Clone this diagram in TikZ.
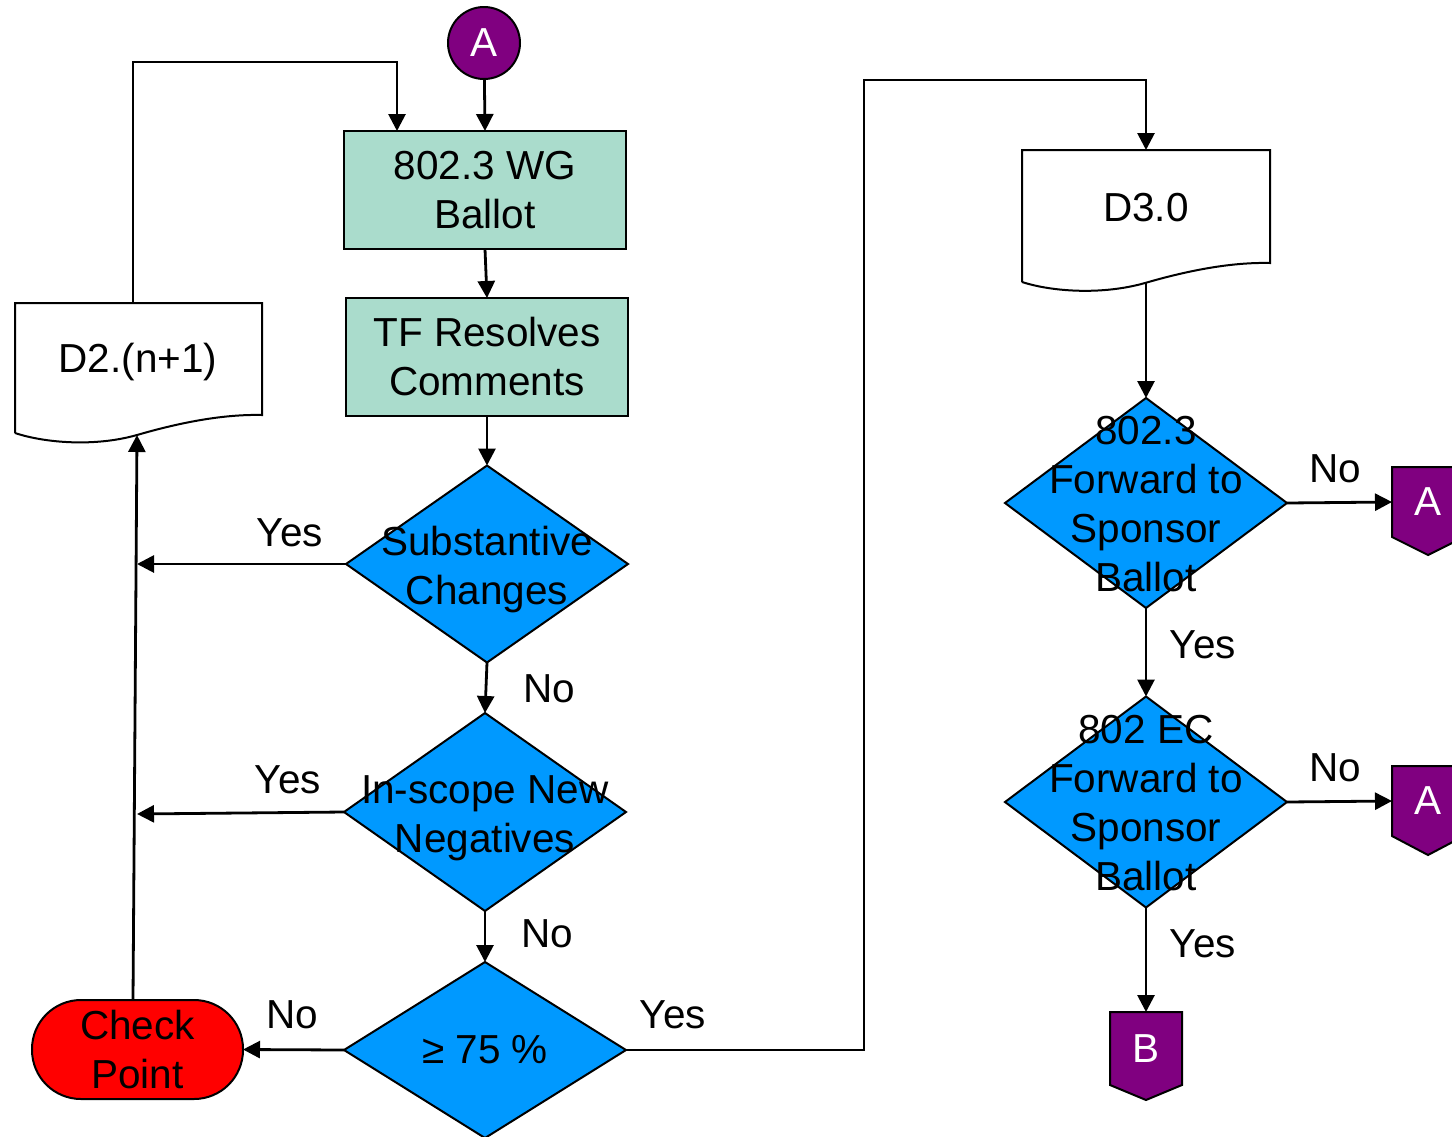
\documentclass[tikz,border=0pt]{standalone}
\usepackage{fontspec}
\setmainfont{Liberation Sans}
\usetikzlibrary{arrows.meta,shapes.geometric}
\definecolor{tealbox}{RGB}{170,220,204}
\definecolor{bluedec}{RGB}{0,153,255}
\definecolor{purp}{RGB}{128,0,128}
\begin{document}
\begin{tikzpicture}[x=1pt,y=-1pt,
  every node/.style={font=\fontsize{40.5}{49}\selectfont, inner sep=0pt, outer sep=0pt},
  arr/.style={line width=2.8pt,-{Triangle[length=17pt,width=17pt]}},
  procbox/.style={draw, line width=2pt, fill=tealbox, minimum width=282pt, minimum height=118pt, align=center},
  decision/.style={draw, line width=2pt, fill=bluedec, diamond, minimum width=282pt},
  docline/.style={draw, line width=2pt, fill=white},
  offshape/.style={draw, line width=2pt, fill=purp},
  offtext/.style={text=white, minimum width=72pt},
  lbl/.style={}
]
\useasboundingbox (0,0) rectangle (1452,1136);

% start connector
\node[circle, draw, line width=2pt, fill=purp, text=white, minimum size=72pt] (ca) at (484,43) {A};

% process boxes
\node[procbox] (wg) at (485,190) {\raisebox{-2pt}{802.3 WG}\\\raisebox{-2pt}{Ballot}};
\node[procbox] (tf) at (487,357) {TF Resolves\\Comments};

% decisions
\node[decision, minimum height=197pt, label={[align=center,yshift=-6pt]center:Substantive\\Changes}] (d1) at (487,564) {};
\node[decision, minimum height=198pt, label={[align=center,yshift=-6pt]center:In-scope New\\Negatives}] (d2) at (485,812) {};
\node[decision, minimum height=176pt, label={center:≥ 75 \%}] (d3) at (485,1050) {};
\node[decision, minimum height=210pt, label={[align=center,yshift=-1pt]center:802.3\\Forward to\\Sponsor\\Ballot}] (d4) at (1146,503) {};
\node[decision, minimum height=211pt, label={[align=center,yshift=-1pt]center:802 EC\\Forward to\\Sponsor\\Ballot}] (d5) at (1146,802) {};

% terminal
\node[draw, line width=2pt, fill=red, rounded corners=49pt, minimum width=211pt, minimum height=99pt, align=center] (cp) at (137.5,1049.5) {Check\\Point};

% documents
\draw[docline] (15,433) -- (15,303) -- (262,303) -- (262,415)
  .. controls (220,414) and (175,424) .. (137,435)
  .. controls (95,447) and (45,443) .. (15,433);
\node (doc2) at (138,362) {D2.(n+1)};
\draw[docline] (1022,282) -- (1022,150) -- (1270,150) -- (1270,263)
  .. controls (1228,262) and (1183,272) .. (1145,283)
  .. controls (1103,295) and (1053,292) .. (1022,282);
\node (doc3) at (1146,208) {D3.0};

% off-page connectors
\draw[offshape] (1392,467) -- (1464,467) -- (1464,537) -- (1428,555) -- (1392,537) -- cycle;
\node[offtext, minimum height=70pt] (oa1) at (1428,502) {A};
\draw[offshape] (1392,766) -- (1464,766) -- (1464,836) -- (1428,855) -- (1392,836) -- cycle;
\node[offtext, minimum height=70pt] (oa2) at (1428,801) {A};
\draw[offshape] (1110,1012) -- (1182,1012) -- (1182,1085) -- (1146,1100) -- (1110,1085) -- cycle;
\node[offtext, minimum height=73pt] (ob) at (1146,1048.5) {B};

% coordinates
\coordinate (d2top) at (133,303);
\coordinate (d2bot) at (137,435);
\coordinate (cptop) at (133,1000);
\coordinate (wgin) at (397,131);
\coordinate (vline1) at (137,564);
\coordinate (vline2) at (137,814);
\coordinate (d3top) at (1146,150);
\coordinate (d3bot) at (1146,283);

% connectors
\draw[arr] (ca) -- (wg.north);
\draw[arr] (d2top) -- (133,62) -| (wgin);
\draw[arr] (wg.south) -- (tf.north);
\draw[arr] (tf.south) -- (d1.north);
\draw[arr] (d1.west) -- (vline1);
\draw[arr] (d1.south) -- (d2.north);
\draw[arr] (d2.west) -- (vline2);
\draw[arr] (d2.south) -- (d3.north);
\draw[arr] (d3.west) -- (cp.east);
\draw[arr] (cptop) -- (d2bot);
\draw[arr] (d3.east) -- (864,1050) -- (864,80) -| (d3top);
\draw[arr] (d3bot) -- (d4.north);
\draw[arr] (d4.east) -- (oa1.west);
\draw[arr] (d4.south) -- (d5.north);
\draw[arr] (d5.east) -- (oa2.west);
\draw[arr] (d5.south) -- (ob.north);

% labels
\node[lbl] at (290,533) {Yes};
\node[lbl] at (549,689) {No};
\node[lbl] at (288,780) {Yes};
\node[lbl] at (547,934) {No};
\node[lbl] at (292,1015) {No};
\node[lbl] at (673,1015) {Yes};
\node[lbl] at (1335,469) {No};
\node[lbl] at (1203,645) {Yes};
\node[lbl] at (1335,768) {No};
\node[lbl] at (1203,944) {Yes};
\end{tikzpicture}
\end{document}
